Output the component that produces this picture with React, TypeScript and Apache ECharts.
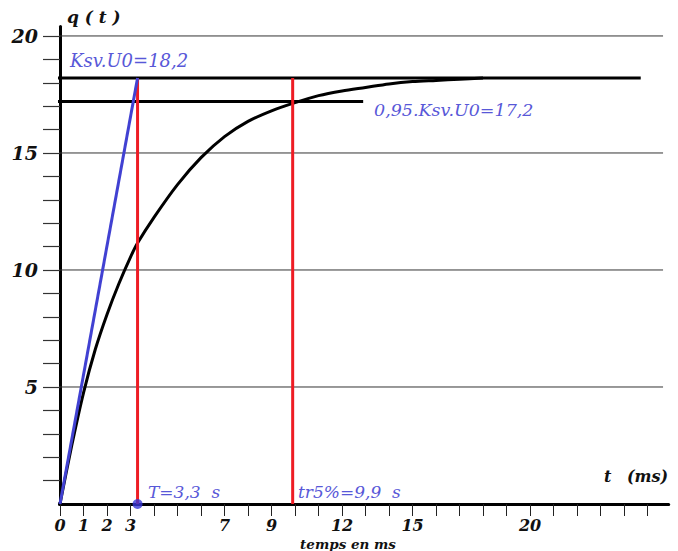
import React, { useEffect, useRef } from "react";
import * as echarts from "echarts";

// Step response q(t)
const tValues = [0, 0.5, 1, 1.5, 2, 2.5, 3, 3.3, 4, 5, 6, 7, 8, 9, 10, 11, 12, 13, 14, 15, 16, 17, 18];
const qValues = [0, 2.5, 4.75, 6.6, 8.1, 9.4, 10.55, 11.15, 12.25, 13.65, 14.8, 15.7, 16.35, 16.8, 17.15, 17.45, 17.65, 17.8, 17.95, 18.05, 18.1, 18.15, 18.2];

const xTickValues = [0, 1, 2, 3, 4, 5, 6, 7, 8, 9, 10, 11, 12, 13, 14, 15, 16, 17, 18, 19, 20, 21, 22, 23, 24, 25];
const xLabelValues = [0, 1, 2, 3, 7, 9, 12, 15, 20];
const yTickValues = [1, 2, 3, 4, 5, 6, 7, 8, 9, 10, 11, 12, 13, 14, 15, 16, 17, 18, 19, 20];
const yLabelValues = [5, 10, 15, 20];
const gridValues = [5, 10, 15, 20];

const KU0 = 18.2; // Ksv.U0
const KU95 = 17.2; // 0,95.Ksv.U0
const T = 3.3; // time constant
const TR5 = 9.9; // 5% response time

const SERIF = '"DejaVu Serif", "Liberation Serif", serif';
const BLUE_TEXT = "#5858d8";

export default function App() {
  const ref = useRef<HTMLDivElement>(null);

  useEffect(() => {
    if (!ref.current) return;
    const chart = echarts.init(ref.current, undefined, { renderer: "svg" });

    const seg = (data: number[][], color: string, width: number, z: number) => ({
      type: "line",
      data,
      symbol: "none",
      clip: false,
      silent: true,
      z,
      lineStyle: { color, width },
    });

    const series: any[] = [];
    gridValues.forEach((g) => series.push(seg([[-0.85, g], [25.66, g]], "#333", 1, 1)));
    // extension of the time axis to the left of the origin
    series.push(seg([[-0.77, 0], [0, 0]], "#000", 3, 2));
    series.push(seg([[-1.28, KU0], [24.71, KU0]], "#000", 3, 2));
    series.push(seg([[-1.19, KU95], [12.9, KU95]], "#000", 3, 2));
    series.push({
      type: "line",
      data: tValues.map((t, i) => [t, qValues[i]]),
      symbol: "none",
      smooth: 0.3,
      clip: false,
      silent: true,
      z: 3,
      lineStyle: { color: "#000", width: 3 },
    });
    series.push(seg([[T, 0], [T, KU0]], "#ee1c24", 3, 4));
    series.push(seg([[TR5, 0], [TR5, KU0]], "#ee1c24", 3, 4));
    series.push(seg([[0, 0], [T, KU0]], "#4141d2", 3, 5));
    series.push({
      type: "scatter",
      data: [[T, 0]],
      symbolSize: 10,
      clip: false,
      silent: true,
      z: 6,
      itemStyle: { color: "#3737d8" },
    });

    const txt = (text: string, x: number, y: number, font: string, fill: string, align = "left") => ({
      type: "text",
      x,
      y,
      silent: true,
      z: 10,
      style: { text, font, fill, align, verticalAlign: "middle" },
    });

    chart.setOption({
      animation: false,
      grid: { left: 60, right: 9.3, top: 26.6, bottom: 47, containLabel: false },
      xAxis: {
        type: "value",
        min: 0,
        max: 25.9,
        axisLine: { show: true, onZero: true, lineStyle: { color: "#000", width: 3 } },
        axisTick: { show: true, customValues: xTickValues, length: 12, lineStyle: { color: "#222", width: 1 } },
        axisLabel: {
          show: true,
          customValues: xLabelValues,
          margin: 13,
          fontFamily: SERIF,
          fontStyle: "italic",
          fontWeight: "bold",
          fontSize: 16,
          color: "#111",
        },
        splitLine: { show: false },
      },
      yAxis: {
        type: "value",
        min: 0,
        max: 20.4,
        axisLine: { show: true, onZero: true, lineStyle: { color: "#000", width: 3 } },
        axisTick: { show: true, customValues: yTickValues, length: 17, lineStyle: { color: "#333", width: 1.2 } },
        axisLabel: {
          show: true,
          customValues: yLabelValues,
          margin: 22,
          fontFamily: SERIF,
          fontStyle: "italic",
          fontWeight: "bold",
          fontSize: 19,
          color: "#111",
        },
        splitLine: { show: false },
      },
      series,
      graphic: [
        txt("q ( t )", 67, 17, `italic bold 17px ${SERIF}`, "#111"),
        txt("Ksv.U0=18,2", 70, 60, `italic 18px ${SERIF}`, BLUE_TEXT),
        txt("0,95.Ksv.U0=17,2", 374, 110, `italic 17.5px ${SERIF}`, BLUE_TEXT),
        txt("T=3,3  s", 148, 492, `italic 17px ${SERIF}`, BLUE_TEXT),
        txt("tr5%=9,9  s", 298, 492, `italic 17px ${SERIF}`, BLUE_TEXT),
        txt("t", 604, 476, `italic bold 16px ${SERIF}`, "#111"),
        txt("(ms)", 627, 476, `italic bold 16px ${SERIF}`, "#111"),
        txt("temps en ms", 348, 544, `italic bold 13.5px ${SERIF}`, "#111", "center"),
      ],
    });

    return () => chart.dispose();
  }, []);

  return (
    <div
      ref={ref}
      style={{ position: "absolute", left: 0, top: 0, width: 678, height: 551, background: "#fff" }}
    />
  );
}
